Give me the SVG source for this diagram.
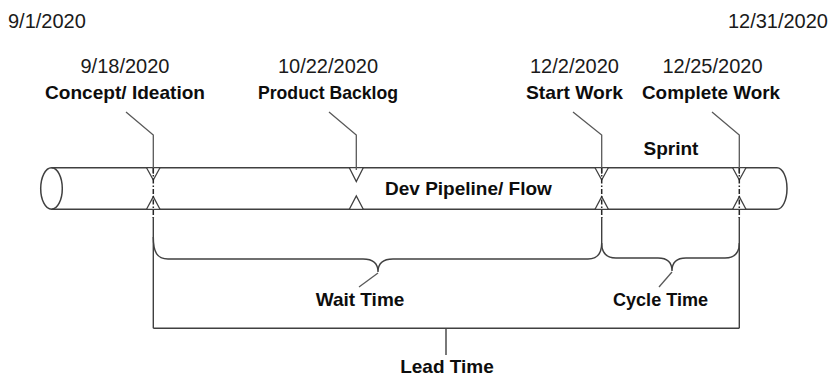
<svg xmlns="http://www.w3.org/2000/svg" width="831" height="378" viewBox="0 0 831 378">
<style>
.date{font-family:"Liberation Sans",Arial,sans-serif;font-size:20px;fill:#1a1a1a}
.lbl{font-family:"Liberation Sans",Arial,sans-serif;font-size:19px;font-weight:bold;fill:#0d0d0d}
.pipe{fill:none;stroke:#404040;stroke-width:1.5}
.lead{fill:none;stroke:#595959;stroke-width:1.3}
.tri{fill:#fff;stroke:#404040;stroke-width:1.3}
.dash{fill:none;stroke:#262626;stroke-width:1.5;stroke-dasharray:5 2 1.5 2}
.brace{fill:none;stroke:#404040;stroke-width:1.4}
</style>
<rect width="831" height="378" fill="#fff"/>

<g id="range-start"><text class="date" x="8" y="28">9/1/2020</text></g>
<g id="range-end"><text class="date" x="828" y="28" text-anchor="end">12/31/2020</text></g>

<g id="pipeline">
  <line class="pipe" x1="51.5" y1="167.7" x2="777" y2="167.7"/>
  <line class="pipe" x1="51.5" y1="209.3" x2="777" y2="209.3"/>
  <ellipse class="pipe" cx="51.5" cy="188.5" rx="10.8" ry="20.8"/>
  <path class="pipe" d="M777,167.7 A10,20.8 0 0 1 777,209.3"/>
  <text class="lbl" x="385" y="195">Dev Pipeline/ Flow</text>
</g>

<g id="sprint"><text class="lbl" x="671" y="155" text-anchor="middle">Sprint</text></g>

<g id="concept">
  <text class="date" x="125" y="73" text-anchor="middle">9/18/2020</text>
  <text class="lbl" x="125" y="99" text-anchor="middle" textLength="160" lengthAdjust="spacingAndGlyphs">Concept/ Ideation</text>
  <polygon class="tri" points="146.5,167.7 160,167.7 153.3,180"/>
  <polygon class="tri" points="146.5,209.3 160,209.3 153.3,196.7"/>
</g>

<g id="backlog">
  <text class="date" x="328" y="73" text-anchor="middle">10/22/2020</text>
  <text class="lbl" x="328" y="99" text-anchor="middle" textLength="140" lengthAdjust="spacingAndGlyphs">Product Backlog</text>
  <polygon class="tri" points="349.3,167.7 363.3,167.7 356.3,181.5"/>
  <polygon class="tri" points="349.3,209.3 363.3,209.3 356.3,196"/>
</g>

<g id="start-work">
  <text class="date" x="574.5" y="73" text-anchor="middle">12/2/2020</text>
  <text class="lbl" x="574.5" y="99" text-anchor="middle" textLength="97" lengthAdjust="spacingAndGlyphs">Start Work</text>
  <polygon class="tri" points="595,167.7 608.4,167.7 601.7,180"/>
  <polygon class="tri" points="595,209.3 608.4,209.3 601.7,196.7"/>
</g>

<g id="complete-work">
  <text class="date" x="712.5" y="73" text-anchor="middle">12/25/2020</text>
  <text class="lbl" x="711" y="99" text-anchor="middle" textLength="138" lengthAdjust="spacingAndGlyphs">Complete Work</text>
  <polygon class="tri" points="732.6,167.7 746,167.7 739.3,180"/>
  <polygon class="tri" points="732.6,209.3 746,209.3 739.3,196.7"/>
</g>

<g id="wait-time"><text class="lbl" x="360" y="306" text-anchor="middle">Wait Time</text></g>
<g id="cycle-time"><text class="lbl" x="660.5" y="306" text-anchor="middle" textLength="95" lengthAdjust="spacingAndGlyphs">Cycle Time</text></g>
<g id="lead-time"><text class="lbl" x="447" y="373" text-anchor="middle">Lead Time</text></g>

<g id="connectors">
  <polyline class="lead" points="126,112 153.3,135 153.3,174"/>
  <polyline class="lead" points="329,112 356.3,135 356.3,170"/>
  <polyline class="lead" points="573,112 601.7,135 601.7,174"/>
  <polyline class="lead" points="712,112 739.3,135 739.3,174"/>
  <line class="dash" x1="153.3" y1="168" x2="153.3" y2="218"/>
  <line class="dash" x1="601.7" y1="168" x2="601.7" y2="218"/>
  <line class="dash" x1="739.3" y1="168" x2="739.3" y2="218"/>
  <line class="brace" x1="153.3" y1="217" x2="153.3" y2="328.3"/>
  <line class="brace" x1="601.7" y1="217" x2="601.7" y2="243"/>
  <line class="brace" x1="739.3" y1="217" x2="739.3" y2="328.3"/>
  <path class="brace" d="M153.3,237 C153.3,252 157,259 168,259 H363 C372,259 378,263 378,272 C378,263 384,259 393,259 H588 C598,259 601.7,252 601.7,243"/>
  <line class="lead" x1="378" y1="273" x2="359" y2="287"/>
  <path class="brace" d="M601.7,243 C601.7,252 606,258 616,258 H658 C667,258 672,262 672,271 C672,262 677,258 686,258 H725 C735,258 739.3,252 739.3,243"/>
  <line class="lead" x1="672" y1="272" x2="659" y2="287"/>
  <line class="brace" x1="153.3" y1="328.3" x2="739.3" y2="328.3"/>
  <line class="brace" x1="446" y1="328.3" x2="446" y2="355"/>
</g>
</svg>
